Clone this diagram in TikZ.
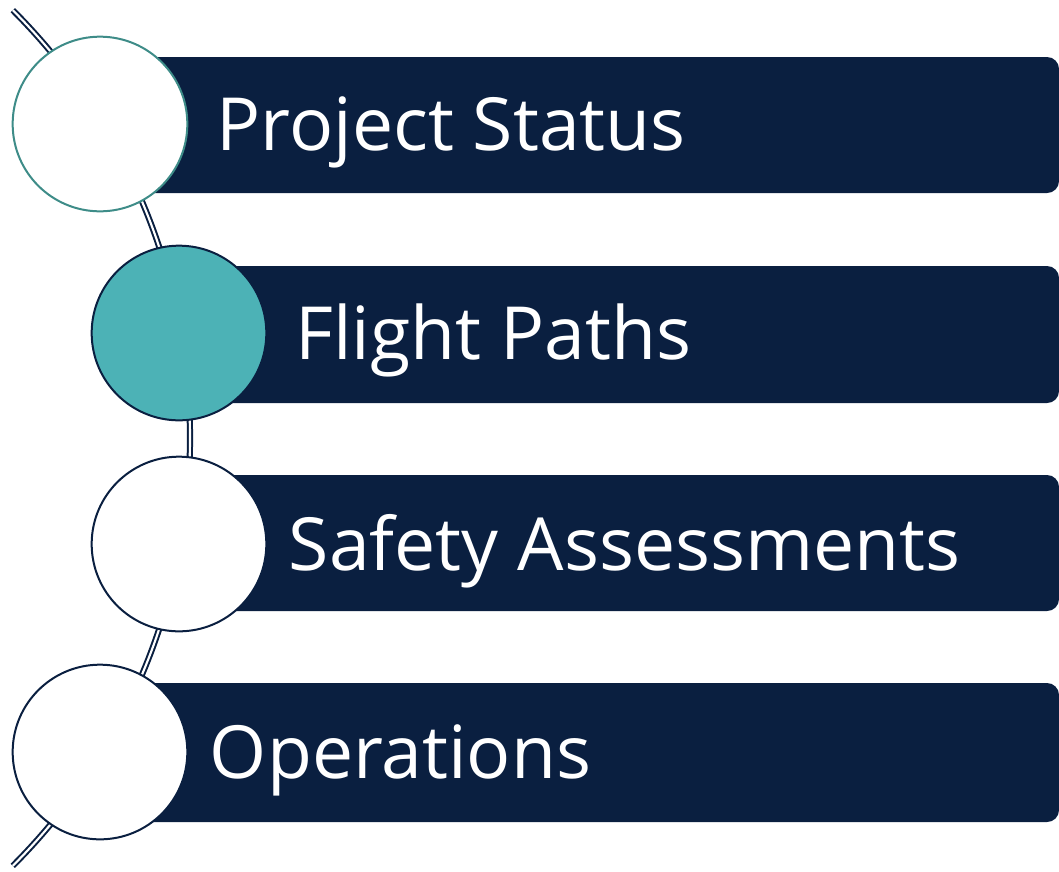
\documentclass[tikz,border=0pt]{standalone}
\usepackage{fontspec}
\setmainfont{Open Sans}
\usetikzlibrary{positioning}
\definecolor{navy}{RGB}{10,31,64}
\definecolor{tealfill}{RGB}{76,178,182}
\definecolor{tealline}{RGB}{62,140,136}

\begin{document}
\begin{tikzpicture}[x=0.75pt, y=0.75pt]
    \useasboundingbox (0,0) rectangle (1059,-871);

    % Spine: one arc through all the circle centres
    \coordinate (hub) at (-415,-438);
    \draw[navy, line width=1.5pt, double=white, double distance=1.6pt]
        (hub) ++(45:605) arc[start angle=45, end angle=-45, radius=605];

    % Bars
    \fill[navy, rounded corners=9] (100,-57) rectangle (1059,-193);
    \fill[navy, rounded corners=9] (179,-266) rectangle (1059,-403);
    \fill[navy, rounded corners=9] (179,-475) rectangle (1059,-611);
    \fill[navy, rounded corners=9] (100,-683) rectangle (1059,-822);

    % Circles
    \tikzset{disc/.style={circle, minimum size=131pt, inner sep=0pt, line width=1.5pt, fill=white, draw=navy}}
    \node[disc, draw=tealline] (c1) at (100,-124) {};
    \node[disc, fill=tealfill] (c2) at (179,-333) {};
    \node[disc] (c3) at (179,-544) {};
    \node[disc] (c4) at (100,-752) {};

    % Labels
    \tikzset{caption/.style={text=white, inner sep=0pt, text height=39pt, text depth=0pt,
        font=\fontsize{55}{66}\selectfont}}
    \node[caption, right=21pt of c1] (t1) {Project Status};
    \node[caption, right=21pt of c2] (t2) {Flight Paths};
    \node[caption, right=16pt of c3] (t3) {Safety Assessments};
    \node[caption, right=16pt of c4] (t4) {Operations};
\end{tikzpicture}
\end{document}
